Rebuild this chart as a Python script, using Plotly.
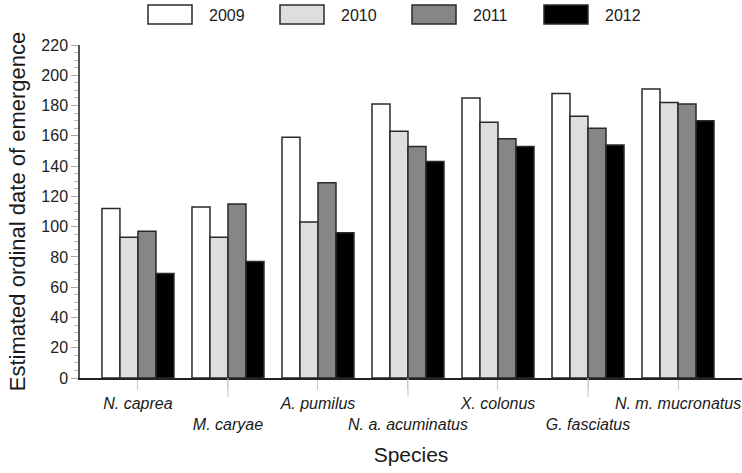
import plotly.graph_objects as go

species = ["N. caprea", "M. caryae", "A. pumilus", "N. a. acuminatus",
           "X. colonus", "G. fasciatus", "N. m. mucronatus"]
years = ["2009", "2010", "2011", "2012"]
v2009 = [112, 113, 159, 181, 185, 188, 191]
v2010 = [93, 93, 103, 163, 169, 173, 182]
v2011 = [97, 115, 129, 153, 158, 165, 181]
v2012 = [69, 77, 96, 143, 153, 154, 170]
values = [v2009, v2010, v2011, v2012]
colors = ["#ffffff", "#dedede", "#868686", "#000000"]
y_ticks = list(range(0, 221, 20))

xs = list(range(len(species)))
fig = go.Figure()
for yr, vals, col in zip(years, values, colors):
    fig.add_trace(go.Bar(x=xs, y=vals, name=yr, marker=dict(color=col, line=dict(color="#2a2a2a", width=1.5)),
                         showlegend=False))

ticktext = []
for i, s in enumerate(species):
    ticktext.append(f"<i>{s}</i>" if i % 2 == 0 else f"<br><i>{s}</i>")

fig.update_layout(
    width=742, height=473,
    margin=dict(l=80, r=0, t=45, b=95),
    paper_bgcolor="white", plot_bgcolor="white",
    barmode="group", bargap=0.2, bargroupgap=0,
    font=dict(family="Liberation Sans, Arial, sans-serif", color="#1a1a1a"),
    xaxis=dict(range=[-0.644, 6.711], tickvals=xs, ticktext=ticktext, tickangle=0,
               ticks="outside", ticklen=10, tickcolor="#c8c8c8", tickwidth=1,
               showline=True, linecolor="#222", linewidth=1.5, showgrid=False,
               zeroline=False, tickfont=dict(size=16),
               title=dict(text="Species", font=dict(size=21), standoff=16)),
    yaxis=dict(range=[0, 220], tickvals=y_ticks, ticks="outside", ticklen=7,
               tickcolor="#aaaaaa", tickwidth=1,
               minor=dict(dtick=5, ticks="outside", ticklen=4, tickcolor="#bbbbbb", showgrid=False),
               showline=True, linecolor="#555", linewidth=1.5, showgrid=False, zeroline=False,
               tickfont=dict(size=16, color="#222"),
               title=dict(text="Estimated ordinal date of emergence", font=dict(size=22), standoff=10)),
)

# longer ticks for the lower-row labels
for i in xs:
    if i % 2 == 1:
        fig.add_shape(type="line", xref="x", yref="paper", x0=i, x1=i, y0=0, y1=-19/333,
                      line=dict(color="#c8c8c8", width=1))

# legend drawn at top
box_w, box_h = 44, 19
lx0 = 148
for k, (yr, col) in enumerate(zip(years, colors)):
    x0 = lx0 + k * 132
    fig.add_shape(type="rect", xref="paper", yref="paper",
                  x0=(x0 - 80) / 662, x1=(x0 + box_w - 80) / 662,
                  y0=(378 - 24) / 333, y1=(378 - 5) / 333,
                  fillcolor=col, line=dict(color="#2a2a2a", width=1.5))
    fig.add_annotation(xref="paper", yref="paper", x=(x0 + box_w + 15 - 80) / 662,
                       y=(378 - 15) / 333, text=yr, showarrow=False, xanchor="left",
                       yanchor="middle", font=dict(size=16, color="#1a1a1a"))

fig.write_html("out.html")
